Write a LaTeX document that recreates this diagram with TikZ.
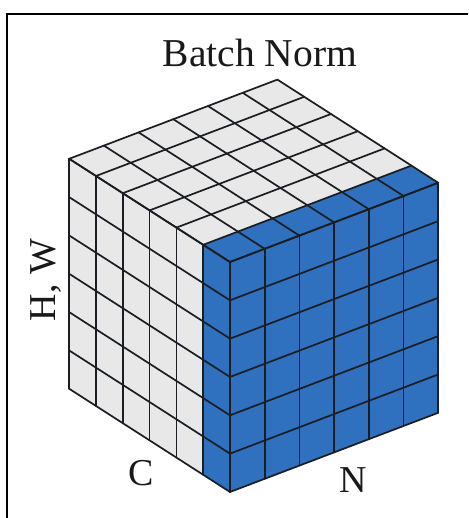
\documentclass[tikz,border=0pt]{standalone}
\usepackage{fontspec}
\setmainfont{Liberation Serif}
\definecolor{cellwhite}{HTML}{E8E8E8}
\definecolor{cellblue}{HTML}{2F70BF}
\definecolor{gridline}{HTML}{1A1D22}
\tikzset{
  gridpen/.style={draw=gridline, line width=1.7pt, line join=round, line cap=round},
  label/.style={font=\fontsize{38}{40}\selectfont, inner sep=0pt, text=black!90},
  framepen/.style={draw=black, line width=2.4pt}
}
\begin{document}
\begin{tikzpicture}[x=1pt,y=-1pt]
\useasboundingbox (0,0) rectangle (468,518);
\clip (0,0) rectangle (468,518);
\fill[white] (0,0) rectangle (468,518);
\draw[framepen] (7,530) -- (7,14) -- (480,14);
% geometry
\def\px{69.2}\def\py{158.8}
\def\cx{26.8}\def\cy{17.2}
\def\nx{34.7}\def\ny{-13.2}
\def\hy{38.33}
\coordinate (P) at (\px,\py);
\coordinate (F) at ({\px+6*\cx},{\py+6*\cy});
% fills
\fill[cellwhite] (P) -- ++({5*\cx},{5*\cy}) -- ++(0,{6*\hy}) -- ++({-5*\cx},{-5*\cy}) -- cycle;
\fill[cellblue] ({\px+5*\cx},{\py+5*\cy}) -- ++(\cx,\cy) -- ++(0,{6*\hy}) -- ++(-\cx,-\cy) -- cycle;
\fill[cellwhite] (P) -- ++({5*\cx},{5*\cy}) -- ++({6*\nx},{6*\ny}) -- ++({-5*\cx},{-5*\cy}) -- cycle;
\fill[cellblue] ({\px+5*\cx},{\py+5*\cy}) -- ++(\cx,\cy) -- ++({6*\nx},{6*\ny}) -- ++(-\cx,-\cy) -- cycle;
\fill[cellblue] (F) -- ++({6*\nx},{6*\ny}) -- ++(0,{6*\hy}) -- ++({-6*\nx},{-6*\ny}) -- cycle;
% grid lines
\foreach \i in {0,...,6}{
  \draw[gridpen] ({\px+\i*\cx},{\py+\i*\cy}) -- ++(0,{6*\hy});
  \draw[gridpen] (\px,{\py+\i*\hy}) -- ++({6*\cx},{6*\cy});
  \draw[gridpen] ({\px+\i*\cx},{\py+\i*\cy}) -- ++({6*\nx},{6*\ny});
  \draw[gridpen] ({\px+\i*\nx},{\py+\i*\ny}) -- ++({6*\cx},{6*\cy});
  \draw[gridpen] ({\px+6*\cx+\i*\nx},{\py+6*\cy+\i*\ny}) -- ++(0,{6*\hy});
  \draw[gridpen] ({\px+6*\cx},{\py+6*\cy+\i*\hy}) -- ++({6*\nx},{6*\ny});
}
% labels
\node[label, anchor=base, font=\fontsize{39.5}{42}\selectfont] (title) at (260,67) {Batch Norm};
\node[label, anchor=base] (clab) at (141,485) {C};
\node[label, anchor=base] (nlab) at (353,492) {N};
\node[label, anchor=base, rotate=90] (hwlab) at (55,280) {H, W};
\end{tikzpicture}
\end{document}
